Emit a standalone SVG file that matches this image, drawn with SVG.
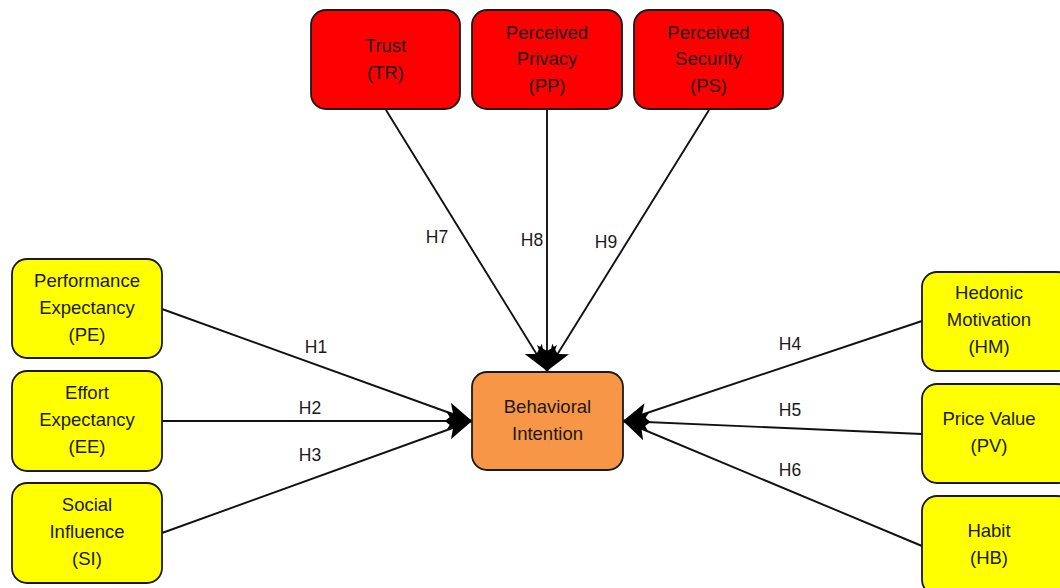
<svg xmlns="http://www.w3.org/2000/svg" width="1060" height="588" viewBox="0 0 1060 588">
<style>
.n rect{stroke:#1a1a1a;stroke-width:1.8}
.red rect{fill:#ff0000}
.yel rect{fill:#ffff00}
.org rect{fill:#f79646}
text{font-family:"Liberation Sans",Arial,sans-serif;font-size:18.5px;fill:#1a1a1a;text-anchor:middle}
.c line{stroke:#111;stroke-width:1.9;marker-end:url(#ah)}
.lbl text{font-size:17.5px}
</style>
<defs>
<marker id="ah" markerUnits="userSpaceOnUse" markerWidth="26" markerHeight="20" viewBox="0 0 26 20" refX="26" refY="10" orient="auto">
<path d="M0,0 L26,10 L0,20 L6,10 Z" fill="#000"/>
</marker>
</defs>
<rect width="1060" height="588" fill="#fff"/>
<g class="c">
<line x1="386" y1="110" x2="547" y2="371"/>
<line x1="547" y1="110" x2="547" y2="371"/>
<line x1="709" y1="110" x2="547" y2="371"/>
<line x1="162" y1="309" x2="472" y2="421"/>
<line x1="162" y1="421" x2="472" y2="421"/>
<line x1="162" y1="533" x2="472" y2="421"/>
<line x1="922" y1="321" x2="623" y2="421"/>
<line x1="922" y1="434" x2="623" y2="421"/>
<line x1="922" y1="546" x2="623" y2="421"/>
</g>
<g class="lbl">
<text x="437" y="243">H7</text>
<text x="532" y="246">H8</text>
<text x="606" y="248">H9</text>
<text x="316" y="353">H1</text>
<text x="310" y="414">H2</text>
<text x="310" y="461">H3</text>
<text x="790" y="350">H4</text>
<text x="790" y="416">H5</text>
<text x="790" y="476">H6</text>
</g>
<g id="TR" class="n red"><rect x="311" y="10" width="149" height="99" rx="15"/><text x="385.5" y="52">Trust</text><text x="385.5" y="79">(TR)</text></g>
<g id="PP" class="n red"><rect x="472" y="10" width="150" height="99" rx="15"/><text x="547" y="39">Perceived</text><text x="547" y="65">Privacy</text><text x="547" y="92">(PP)</text></g>
<g id="PS" class="n red"><rect x="634" y="10" width="149" height="99" rx="15"/><text x="708.5" y="39">Perceived</text><text x="708.5" y="65">Security</text><text x="708.5" y="92">(PS)</text></g>
<g id="PE" class="n yel"><rect x="12" y="259" width="150" height="99" rx="15"/><text x="87" y="287">Performance</text><text x="87" y="314">Expectancy</text><text x="87" y="341">(PE)</text></g>
<g id="EE" class="n yel"><rect x="12" y="371" width="150" height="100" rx="15"/><text x="87" y="399">Effort</text><text x="87" y="426">Expectancy</text><text x="87" y="453">(EE)</text></g>
<g id="SI" class="n yel"><rect x="12" y="483" width="150" height="100" rx="15"/><text x="87" y="511">Social</text><text x="87" y="538">Influence</text><text x="87" y="565">(SI)</text></g>
<g id="BI" class="n org"><rect x="472" y="372" width="151" height="98" rx="15"/><text x="547.5" y="413">Behavioral</text><text x="547.5" y="440">Intention</text></g>
<g id="HM" class="n yel"><rect x="922" y="272" width="150" height="99" rx="15"/><text x="989" y="299">Hedonic</text><text x="989" y="326">Motivation</text><text x="989" y="353">(HM)</text></g>
<g id="PV" class="n yel"><rect x="922" y="384" width="150" height="99" rx="15"/><text x="989" y="425">Price Value</text><text x="989" y="452">(PV)</text></g>
<g id="HB" class="n yel"><rect x="922" y="496" width="150" height="99" rx="15"/><text x="989" y="537">Habit</text><text x="989" y="564">(HB)</text></g>
</svg>
